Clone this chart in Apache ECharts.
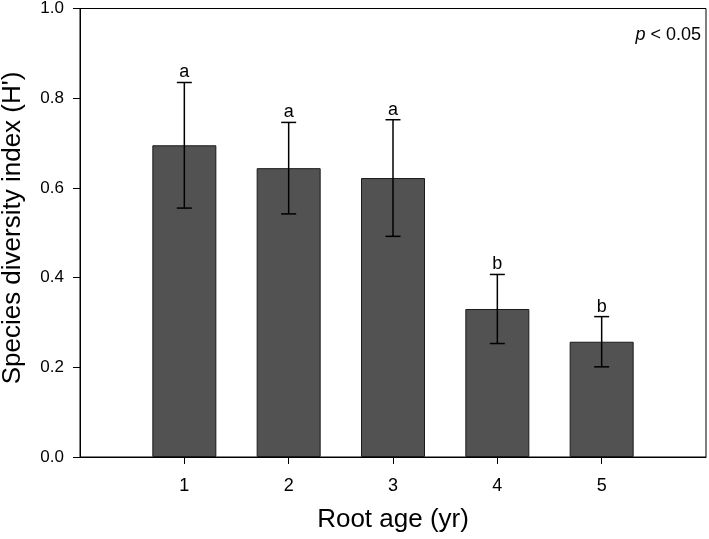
<!DOCTYPE html>
<html>
<head>
<meta charset="utf-8">
<script src="https://cdn.jsdelivr.net/npm/echarts@6/dist/echarts.min.js"></script>
<style>html,body{margin:0;padding:0;background:#fff}#c{width:709px;height:539px}</style>
</head>
<body>
<div id="c"></div>
<script>
var categories = ['0', '1', '2', '3', '4', '5', '6'];
var barAges = ['1', '2', '3', '4', '5'];
var meanValues = [0.695, 0.644, 0.622, 0.330, 0.257];
var errorValues = [0.140, 0.102, 0.130, 0.077, 0.056];
var letters = ['a', 'a', 'a', 'b', 'b'];
var yTicks = [0, 0.2, 0.4, 0.6, 0.8, 1.0];

var FONT = '"Liberation Sans", Arial, sans-serif';
var chart = echarts.init(document.getElementById('c'));

var barData = barAges.map(function (a, i) { return [a, meanValues[i]]; });
var errData = barAges.map(function (a, i) { return [a, meanValues[i], errorValues[i], letters[i]]; });

chart.setOption({
  animation: false,
  backgroundColor: '#fff',
  grid: { left: 80, right: 3, top: 7, bottom: 82, show: true, borderColor: '#000', borderWidth: 1, backgroundColor: 'transparent' },
  xAxis: {
    type: 'category',
    data: categories,
    boundaryGap: false,
    name: 'Root age (yr)',
    nameLocation: 'middle',
    nameGap: 50,
    nameTextStyle: { fontFamily: FONT, fontSize: 26, color: '#000' },
    axisLine: { lineStyle: { color: '#000', width: 1 } },
    axisTick: { length: 7, lineStyle: { color: '#000' }, interval: function (i) { return i >= 1 && i <= 5; } },
    axisLabel: { interval: function (i) { return i >= 1 && i <= 5; }, fontFamily: FONT, fontSize: 18, color: '#000', margin: 20 },
    splitLine: { show: false }
  },
  yAxis: {
    type: 'value',
    min: 0, max: 1, interval: 0.2,
    axisLine: { show: true, lineStyle: { color: '#000', width: 1 } },
    axisTick: { show: true, length: 7, lineStyle: { color: '#000' } },
    axisLabel: { fontFamily: FONT, fontSize: 17, color: '#000', margin: 16, formatter: function (v) { return v.toFixed(1); } },
    splitLine: { show: false }
  },
  graphic: [{
    type: 'text', x: 13, y: 228, rotation: Math.PI / 2,
    style: { text: "Species diversity index (H')", textAlign: 'center', textVerticalAlign: 'middle', font: '26px ' + FONT, fill: '#000' }
  }, {
    type: 'text', right: 8, top: 26,
    style: { rich: { i: { fontStyle: 'italic', fontFamily: FONT, fontSize: 18, fill: '#000' }, n: { fontFamily: FONT, fontSize: 18, fill: '#000' } }, text: '{i|p}{n| < 0.05}' }
  }],
  series: [{
    type: 'bar',
    data: barData,
    barWidth: 64,
    itemStyle: { color: '#525252', borderColor: '#1a1a1a', borderWidth: 1 }
  }, {
    type: 'custom',
    data: errData,
    z: 10,
    renderItem: function (params, api) {
      var x = api.value(0);
      var m = api.value(1), e = api.value(2);
      var top = api.coord([x, m + e]);
      var bot = api.coord([x, m - e]);
      var hw = 7.5;
      var st = { stroke: '#000', lineWidth: 1.5 };
      return {
        type: 'group',
        children: [
          { type: 'line', shape: { x1: top[0], y1: top[1], x2: bot[0], y2: bot[1] }, style: st },
          { type: 'line', shape: { x1: top[0] - hw, y1: top[1], x2: top[0] + hw, y2: top[1] }, style: st },
          { type: 'line', shape: { x1: bot[0] - hw, y1: bot[1], x2: bot[0] + hw, y2: bot[1] }, style: st },
          { type: 'text', style: { text: letters[params.dataIndex], x: top[0], y: top[1] - 1, textAlign: 'center', textVerticalAlign: 'bottom', font: '18px ' + FONT, fill: '#000' } }
        ]
      };
    }
  }]
});
</script>
</body>
</html>
